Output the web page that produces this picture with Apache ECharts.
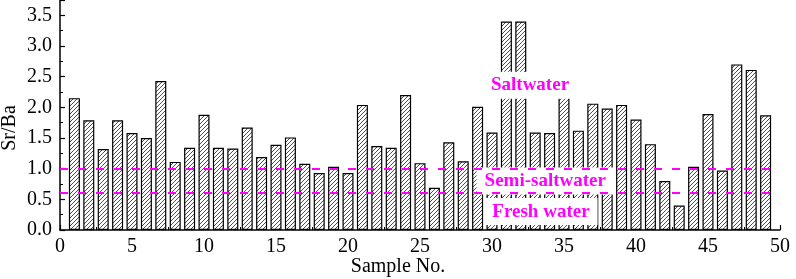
<!DOCTYPE html>
<html>
<head>
<meta charset="utf-8">
<script src="https://cdn.jsdelivr.net/npm/echarts@6/dist/echarts.min.js"></script>
<style>
  html, body { margin: 0; padding: 0; background: #fff; }
  #main { width: 796px; height: 279px; }
</style>
</head>
<body>
<div id="main"></div>
<script>
// sample numbers on the x axis
const sampleNo = [1, 2, 3, 4, 5, 6, 7, 8, 9, 10, 11, 12, 13, 14, 15, 16, 17, 18, 19, 20,
  21, 22, 23, 24, 25, 26, 27, 28, 29, 30, 31, 32, 33, 34, 35, 36, 37, 38, 39, 40,
  41, 42, 43, 44, 45, 46, 47, 48, 49];
// Sr/Ba ratio per sample
const srBa = [2.15, 1.79, 1.32, 1.79, 1.58, 1.50, 2.43, 1.11, 1.34, 1.88,
  1.34, 1.33, 1.67, 1.19, 1.39, 1.51, 1.08, 0.93, 1.03, 0.93,
  2.04, 1.37, 1.34, 2.20, 1.09, 0.69, 1.43, 1.12, 2.01, 1.59,
  3.40, 3.40, 1.59, 1.58, 2.25, 1.62, 2.06, 1.98, 2.04, 1.80,
  1.40, 0.80, 0.40, 1.03, 1.89, 0.97, 2.70, 2.61, 1.87];
// boundary lines
const thresholds = [1.0, 0.6];
// zone labels: [x, y, text]
const zoneLabels = [
  [32.64, 2.36, 'Saltwater'],
  [33.7, 0.80, 'Semi-saltwater'],
  [33.4, 0.30, 'Fresh water']
];

const serif = '"Liberation Serif", "DejaVu Serif", serif';

// diagonal hatch for the bars
const hatch = document.createElement('canvas');
hatch.width = 4;
hatch.height = 4;
const hc = hatch.getContext('2d');
hc.fillStyle = '#fff';
hc.fillRect(0, 0, 4, 4);
hc.strokeStyle = '#3a3a3a';
hc.lineWidth = 0.9;
hc.beginPath();
hc.moveTo(-1, 5); hc.lineTo(5, -1);
hc.moveTo(-1, 1); hc.lineTo(1, -1);
hc.moveTo(3, 5); hc.lineTo(5, 3);
hc.stroke();

const chart = echarts.init(document.getElementById('main'));

const option = {
  animation: false,
  grid: { left: 60, right: 16, top: 0, bottom: 49, containLabel: false, outerBoundsMode: 'none' },
  xAxis: {
    type: 'value',
    min: 0,
    max: 50,
    interval: 5,
    name: 'Sample No.',
    nameLocation: 'middle',
    nameGap: 27,
    nameMoveOverlap: false,
    nameTextStyle: { fontFamily: serif, fontSize: 20, color: '#000', padding: [0, 44, 0, 0] },
    axisLine: { lineStyle: { color: '#000', width: 1.5 } },
    axisTick: { inside: true, length: 5, lineStyle: { color: '#000', width: 1.2 } },
    minorTick: { show: true, splitNumber: 2, length: 3, lineStyle: { color: '#000' } },
    splitLine: { show: false },
    axisLabel: { fontFamily: serif, fontSize: 20, color: '#000', margin: 7 }
  },
  yAxis: {
    type: 'value',
    min: 0,
    max: 3.75,
    interval: 0.5,
    name: 'Sr/Ba',
    nameLocation: 'middle',
    nameGap: 40,
    nameMoveOverlap: false,
    nameTextStyle: { fontFamily: serif, fontSize: 20, color: '#000', padding: [0, 26, 0, 0] },
    axisLine: { show: true, lineStyle: { color: '#000', width: 1.5 } },
    axisTick: { inside: true, length: 5, lineStyle: { color: '#000', width: 1.2 } },
    minorTick: { show: true, splitNumber: 2, length: 3, lineStyle: { color: '#000' } },
    splitLine: { show: false },
    axisLabel: {
      fontFamily: serif, fontSize: 20, color: '#000', margin: 8,
      showMaxLabel: false,
      formatter: v => v.toFixed(1)
    }
  },
  series: [
    {
      type: 'bar',
      z: 2,
      barWidth: 11,
      data: sampleNo.map((x, i) => [x, srBa[i]]),
      itemStyle: {
        color: { image: hatch, repeat: 'repeat' },
        borderColor: '#000',
        borderWidth: 1.2
      }
    },
    {
      type: 'scatter',
      z: 4,
      data: [],
      markPoint: {
        z: 4,
        symbol: 'rect',
        symbolSize: 0,
        data: zoneLabels.map(d => ({
          coord: [d[0], d[1]],
          value: d[2],
          label: {
            show: true,
            position: 'inside',
            formatter: d[2],
            fontFamily: serif,
            fontSize: 19,
            fontWeight: 'bold',
            color: '#ff00ff',
            backgroundColor: '#fff',
            padding: [5, 8, 3, 8]
          }
        }))
      }
    },
    {
      type: 'line',
      z: 6,
      data: [],
      markLine: {
        z: 6,
        silent: true,
        symbol: 'none',
        label: { show: false },
        lineStyle: { color: '#ff00ff', type: [8, 10], width: 2 },
        data: thresholds.map(t => ({ yAxis: t }))
      }
    }
  ]
};

chart.setOption(option);
</script>
</body>
</html>
